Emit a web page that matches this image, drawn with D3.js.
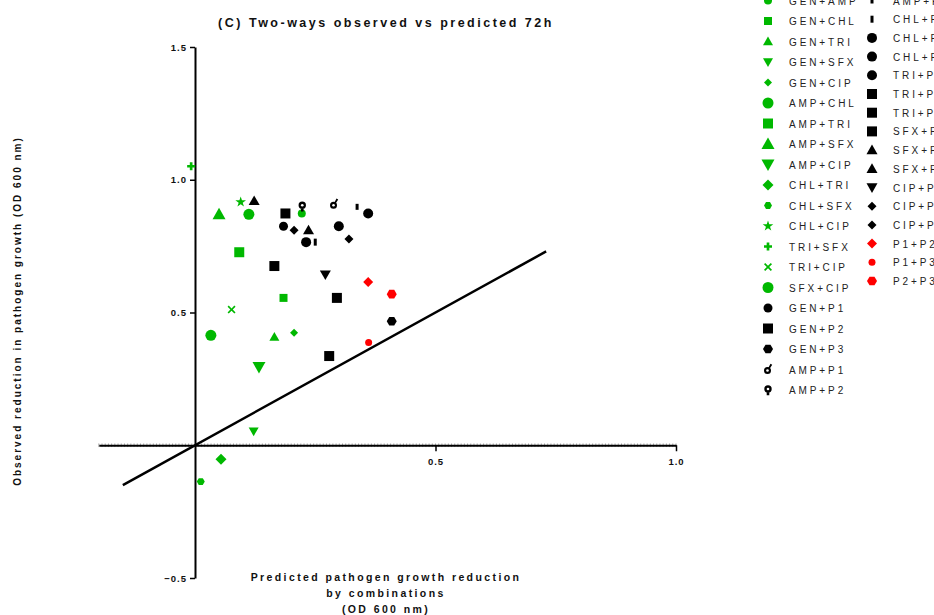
<!DOCTYPE html>
<html>
<head>
<meta charset="utf-8">
<script src="https://cdn.jsdelivr.net/npm/d3@7"></script>
<style>
  body { margin: 0; background: #fff; }
  svg { display: block; font-family: "Liberation Sans", Arial, sans-serif; }
</style>
</head>
<body>
<div id="chart"></div>
<script>
// combinations, in legend order
const combos = [
  "GEN+AMP", "GEN+CHL", "GEN+TRI", "GEN+SFX", "GEN+CIP",
  "AMP+CHL", "AMP+TRI", "AMP+SFX", "AMP+CIP", "CHL+TRI",
  "CHL+SFX", "CHL+CIP", "TRI+SFX", "TRI+CIP", "SFX+CIP",
  "GEN+P1", "GEN+P2", "GEN+P3", "AMP+P1", "AMP+P2",
  "AMP+P3", "CHL+P1", "CHL+P2", "CHL+P3", "TRI+P1",
  "TRI+P2", "TRI+P3", "SFX+P1", "SFX+P2", "SFX+P3",
  "CIP+P1", "CIP+P2", "CIP+P3", "P1+P2", "P1+P3", "P2+P3"
]

// predicted reduction (x)
const predicted = [
  0.222, 0.184, 0.165, 0.122, 0.206,
  0.112, 0.092, 0.050, 0.133, 0.054,
  0.012, 0.095, -0.008, 0.076, 0.033,
  0.184, 0.165, 0.409, 0.289, 0.223,
  0.337, 0.250, 0.299, 0.231, 0.360,
  0.188, 0.295, 0.279, 0.123, 0.236,
  0.271, 0.206, 0.320, 0.360, 0.361, 0.409
]

// observed reduction (y)
const observed = [
  0.873, 0.555, 0.408, 0.053, 0.424,
  0.870, 0.727, 0.870, 0.295, -0.053,
  -0.137, 0.916, 1.051, 0.511, 0.414,
  0.825, 0.675, 0.467, 0.908, 0.900,
  0.898, 0.765, 0.825, 0.765, 0.873,
  0.873, 0.555, 0.336, 0.920, 0.810,
  0.643, 0.810, 0.777, 0.615, 0.387, 0.569
]

const yTicks = [-0.5, 0.5, 1.0, 1.5]
const xTicks = [0.5, 1.0]
const identityLine = [-0.15, 0.73]

// marker look for each combination (shape, size in px, colour)
const GREEN = "#00b800", BLACK = "#000", RED = "#ff0000"
const markers = {
  "GEN+AMP": ["circle", 8, GREEN], "GEN+CHL": ["square", 8, GREEN],
  "GEN+TRI": ["triangle", 10, GREEN], "GEN+SFX": ["down", 10, GREEN],
  "GEN+CIP": ["diamond", 8, GREEN], "AMP+CHL": ["circle", 11, GREEN],
  "AMP+TRI": ["square", 10, GREEN], "AMP+SFX": ["triangle", 13, GREEN],
  "AMP+CIP": ["down", 13, GREEN], "CHL+TRI": ["diamond", 11, GREEN],
  "CHL+SFX": ["hexagon", 8, GREEN], "CHL+CIP": ["star", 10, GREEN],
  "TRI+SFX": ["plus", 8, GREEN], "TRI+CIP": ["times", 8, GREEN],
  "SFX+CIP": ["circle", 11, GREEN],
  "GEN+P1": ["circle", 9, BLACK], "GEN+P2": ["square", 10, BLACK],
  "GEN+P3": ["hexagon", 10, BLACK], "AMP+P1": ["male", 8, BLACK],
  "AMP+P2": ["key", 8, BLACK], "AMP+P3": ["bar", 6, BLACK],
  "CHL+P1": ["bar", 7, BLACK], "CHL+P2": ["circle", 10, BLACK],
  "CHL+P3": ["circle", 10, BLACK], "TRI+P1": ["circle", 10, BLACK],
  "TRI+P2": ["square", 10, BLACK], "TRI+P3": ["square", 10, BLACK],
  "SFX+P1": ["square", 10, BLACK], "SFX+P2": ["triangle", 11, BLACK],
  "SFX+P3": ["triangle", 11, BLACK], "CIP+P1": ["down", 11, BLACK],
  "CIP+P2": ["diamond", 9, BLACK], "CIP+P3": ["diamond", 9, BLACK],
  "P1+P2": ["diamond", 10, RED], "P1+P3": ["circle", 7, RED],
  "P2+P3": ["hexagon", 10, RED]
}

const width = 934, height = 615

const svg = d3.select("#chart").append("svg")
  .attr("width", width)
  .attr("height", height)

const x = d3.scaleLinear().domain([0, 1]).range([195, 676])
const y = d3.scaleLinear().domain([-0.5, 1.5]).range([578, 47])

function poly(pts) {
  return "M" + pts.map(p => p[0].toFixed(2) + "," + p[1].toFixed(2)).join("L") + "Z"
}

function shapePath(shape, s) {
  const r = s / 2
  switch (shape) {
    case "circle": return d3.symbol(d3.symbolCircle, Math.PI * r * r)()
    case "square": return poly([[-r, -r], [r, -r], [r, r], [-r, r]])
    case "triangle": return poly([[0, -r], [r, r * 0.75], [-r, r * 0.75]])
    case "down": return poly([[0, r], [r, -r * 0.75], [-r, -r * 0.75]])
    case "diamond": return poly([[0, -r], [r, 0], [0, r], [-r, 0]])
    case "hexagon": return poly(d3.range(6).map(i => [r * Math.cos(i * Math.PI / 3), r * Math.sin(i * Math.PI / 3)]))
    case "star": return d3.symbol(d3.symbolStar, s * s * 0.35)()
    case "plus": {
      const t = s / 6
      return poly([[-t, -r], [t, -r], [t, -t], [r, -t], [r, t], [t, t], [t, r], [-t, r], [-t, t], [-r, t], [-r, -t], [-t, -t]])
    }
    case "times": {
      const t = 1.2, q = r
      return poly([[-q, -q + t], [-q + t, -q], [0, -t], [q - t, -q], [q, -q + t], [t, 0], [q, q - t], [q - t, q], [0, t], [-q + t, q], [-q, q - t], [-t, 0]])
    }
    case "bar": return poly([[-1.5, -r], [1.5, -r], [1.5, r], [-1.5, r]])
    case "male": {
      const c = d3.path()
      c.arc(-0.5, 1, 3.5, 0, 2 * Math.PI)
      return c.toString() + "M0.5,-2L2.5,-5.8L4.2,-4.8L2,-1.2Z"
    }
    case "key": {
      const c = d3.path()
      c.arc(0, -1, 3.7, 0, 2 * Math.PI)
      return c.toString() + "M-1.3,1.5L1.3,1.5L1.3,5.2L-1.3,5.2Z"
    }
  }
}

function drawMarker(g, label) {
  const [shape, size, color] = markers[label]
  g.append("path")
    .attr("d", shapePath(shape, size))
    .attr("fill", color)
  if (shape === "male" || shape === "key") {
    g.append("circle")
      .attr("cx", shape === "male" ? -0.5 : 0)
      .attr("cy", shape === "male" ? 1 : -1)
      .attr("r", 1.3)
      .attr("fill", "#fff")
  }
}

/* ------- TITLE ------- */
svg.append("text")
  .attr("x", 386).attr("y", 27)
  .attr("text-anchor", "middle")
  .style("font-size", "12.5px")
  .style("font-weight", "bold")
  .style("letter-spacing", "2.5px")
  .style("fill", "#111")
  .text("(C) Two-ways observed vs predicted 72h")

/* ------- Y AXIS ------- */
const tickFont = sel => sel
  .style("font-size", "9.5px")
  .style("font-weight", "bold")
  .style("letter-spacing", "1px")
  .style("fill", "#111")
  .style("font-family", "Liberation Sans, Arial, sans-serif")

const yAxis = svg.append("g")
  .attr("transform", `translate(${x(0)},0)`)
  .call(d3.axisLeft(y).tickValues(yTicks).tickSize(5).tickSizeOuter(0)
    .tickFormat(d3.format(".1f")))
yAxis.select(".domain").attr("stroke-width", 2)
yAxis.selectAll(".tick line").attr("stroke-width", 1.5)
yAxis.selectAll(".tick text").attr("x", -8).call(tickFont)

/* ------- X AXIS ------- */
const xFull = x.copy().domain([-0.2, 1]).range([x(-0.2), x(1)])
const minor = d3.range(-0.2, 1.0001, 1 / 150)

const xAxis = svg.append("g").attr("transform", `translate(0,${y(0)})`)
xAxis.selectAll("line.minor")
  .data(minor)
  .join("line")
    .attr("class", "minor")
    .attr("x1", d => xFull(d)).attr("x2", d => xFull(d))
    .attr("y1", -1.8).attr("y2", 1.8)
    .attr("stroke", "#555")
    .attr("stroke-width", 0.5)
xAxis.call(d3.axisBottom(xFull).tickValues(xTicks).tickSize(6).tickSizeOuter(0)
  .tickFormat(d3.format(".1f")))
xAxis.select(".domain").attr("stroke-width", 1.8)
xAxis.selectAll(".tick line").attr("stroke-width", 1.5)
xAxis.selectAll(".tick text").attr("y", 13).call(tickFont)

/* ------- AXIS TITLES ------- */
svg.append("text")
  .attr("transform", `translate(21,${311}) rotate(-90)`)
  .attr("text-anchor", "middle")
  .style("font-size", "10px")
  .style("font-weight", "bold")
  .style("letter-spacing", "2px")
  .style("fill", "#111")
  .text("Observed reduction in pathogen growth  (OD 600 nm)")

const xTitle = ["Predicted pathogen growth reduction", "by combinations", "(OD 600 nm)"]
svg.append("g").selectAll("text")
  .data(xTitle)
  .join("text")
    .attr("x", 386)
    .attr("y", (d, i) => 581 + i * 16)
    .attr("text-anchor", "middle")
    .style("font-size", "10.5px")
    .style("font-weight", "bold")
    .style("letter-spacing", "2.4px")
    .style("fill", "#111")
    .text(d => d)

/* ------- IDENTITY LINE ------- */
svg.append("line")
  .attr("x1", x(identityLine[0])).attr("y1", y(identityLine[0]))
  .attr("x2", x(identityLine[1])).attr("y2", y(identityLine[1]))
  .attr("stroke", "#000")
  .attr("stroke-width", 2.5)

/* ------- POINTS ------- */
const points = combos.map((c, i) => ({ label: c, px: predicted[i], py: observed[i] }))
const pts = svg.append("g").attr("class", "points")
points.forEach(d => {
  const g = pts.append("g").attr("transform", `translate(${x(d.px)},${y(d.py)})`)
  drawMarker(g, d.label)
})

/* ------- LEGEND ------- */
const leftCount = 20
const legend = svg.append("g").attr("class", "legend")
combos.forEach((c, i) => {
  const col = i < leftCount ? 0 : 1
  const row = col === 0 ? i : i - leftCount
  const ly = col === 0 ? 0.5 + row * 20.5 : 0.5 + row * 18.7
  const lx = col === 0 ? 768 : 872
  const g = legend.append("g").attr("transform", `translate(${lx},${ly})`)
  drawMarker(g, c)
  g.append("text")
    .attr("x", 21)
    .attr("y", 4)
    .style("font-size", "10px")
    .style("letter-spacing", "2.9px")
    .style("fill", "#222")
    .text(c)
})
</script>
</body>
</html>
